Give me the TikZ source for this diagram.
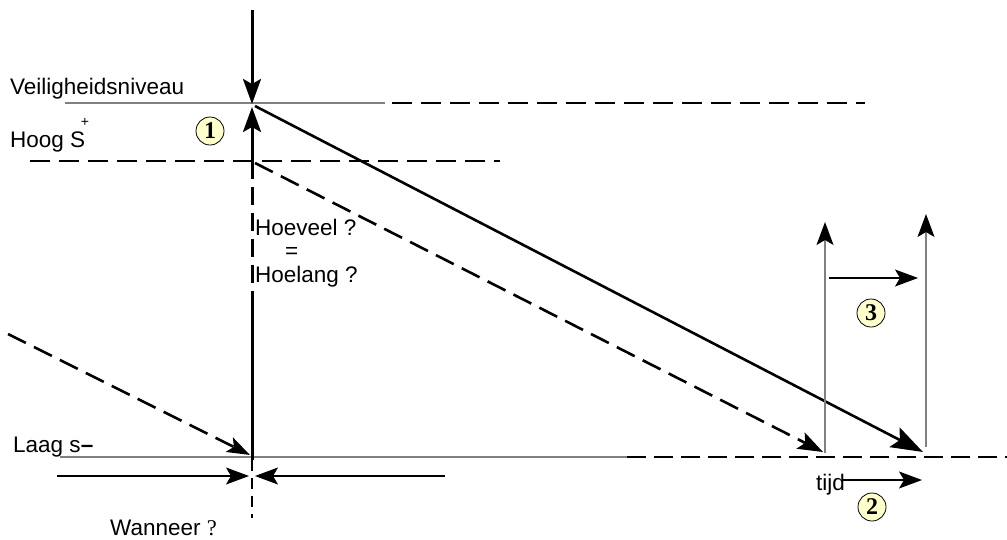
\documentclass[tikz,border=0pt]{standalone}
\usepackage{fontspec}
\setmainfont{Liberation Sans}
\newfontfamily\seriffont{Liberation Serif}
\usetikzlibrary{arrows.meta}
\definecolor{circfill}{RGB}{255,255,204}
\definecolor{thingray}{RGB}{128,128,128}
\begin{document}
\begin{tikzpicture}[x=1pt,y=-1pt,
  lbl/.style={inner sep=0pt, anchor=base west, font=\fontsize{22.5}{26}\selectfont},
  num/.style={circle, draw=black, line width=0.8pt, fill=circfill, minimum size=28pt, inner sep=0pt,
    font=\seriffont\bfseries\fontsize{24}{24}\selectfont},
  bigline/.style={line width=3pt, line cap=butt},
  dashln/.style={line width=2.6pt, dash pattern=on 20pt off 9pt},
  grayln/.style={line width=1.1pt, draw=thingray},
  thinblack/.style={line width=1.1pt, draw=black},
  arrbig/.style={-{Stealth[length=32pt,width=22pt,inset=6pt]}},
  arrmid/.style={-{Stealth[length=25pt,width=18pt,inset=5pt]}},
  arrthin/.style={-{Stealth[length=23pt,width=17pt,inset=5pt,color=black]}}
]
\useasboundingbox (0,0) rectangle (1007,539);

% coordinates
\coordinate (vtop) at (252,10);
\coordinate (vlvl) at (252,104);
\coordinate (vup) at (252,107);
\coordinate (vhoog) at (252,161);
\coordinate (vmid) at (252,295);
\coordinate (vlow) at (252,460);
\coordinate (vbot) at (252,518);

% level lines
\coordinate (vl1) at (65,103);
\coordinate (vl2) at (385,103);
\coordinate (vl3) at (392,103);
\coordinate (vl4) at (865,103);
\draw[grayln] (vl1) -- (vl2);
\draw[dashln] (vl3) -- (vl4);

\coordinate (hg1) at (30,161);
\coordinate (hg2) at (500,161);
\draw[dashln] (hg1) -- (hg2);

\coordinate (lg1) at (60,457);
\coordinate (lg2) at (627,457);
\coordinate (lg3) at (1007,457);
\draw[grayln] (lg1) -- (lg2);
\draw[line width=2.6pt, dash pattern=on 19pt off 8pt] (lg2) -- (lg3);

% central vertical
\draw[bigline, arrmid] (vtop) -- (vlvl);
\draw[bigline, arrmid] (vhoog) -- (vup);
\draw[line width=3pt, dash pattern=on 18pt off 8pt] (vhoog) -- (vmid);
\draw[bigline] (vmid) -- (vlow);
\draw[line width=2.6pt, dash pattern=on 11pt off 7pt] (vlow) -- (vbot);

% diagonals
\coordinate (d1s) at (255,106);
\coordinate (d1e) at (923,452);
\draw[line width=2.6pt, arrbig] (d1s) -- (d1e);
\coordinate (d2s) at (255,163);
\coordinate (d2e) at (823,452);
\draw[dashln, arrmid] (d2s) -- (d2e);
\coordinate (d3s) at (8,334);
\coordinate (d3e) at (250,455);
\draw[dashln, -{Stealth[length=23pt,width=16pt,inset=5pt]}] (d3s) -- (d3e);

% dimension arrows
\coordinate (dm1) at (57,476);
\coordinate (dm2) at (249,476);
\coordinate (dm3) at (445,476);
\coordinate (dm4) at (255,476);
\draw[thinblack, arrthin] (dm1) -- (dm2);
\draw[thinblack, arrthin] (dm3) -- (dm4);

% right verticals
\coordinate (r1b) at (825,453);
\coordinate (r1t) at (825,222);
\coordinate (r2b) at (926,447);
\coordinate (r2t) at (926,214);
\draw[grayln, arrthin] (r1b) -- (r1t);
\draw[grayln, arrthin] (r2b) -- (r2t);
\coordinate (h3a) at (829,278);
\coordinate (h3b) at (918,278);
\draw[thinblack, arrthin] (h3a) -- (h3b);

% tijd
\node[lbl] (tijd) at (816,490) {tijd};
\coordinate (t1) at (843,480);
\coordinate (t2) at (922,480);
\draw[thinblack, arrthin] (t1) -- (t2);

% circles
\node[num] (c1) at (210,131) {1};
\node[num] (c3) at (871,313) {3};
\node[num] (c2) at (872,507) {2};

% labels
\node[lbl] (veil) at (10,94) {Veiligheidsniveau};
\node[lbl] (hoog) at (10,147) {Hoog S};
\node[inner sep=0pt, font=\fontsize{14}{14}\selectfont] (plus) at (85,122) {+};
\node[lbl] (laag) at (13,452) {Laag s{\bfseries –}};
\node[lbl] (wann) at (110,535) {Wanneer {\seriffont ?}};
\node[lbl] (hoev) at (255,235) {Hoeveel ?};
\node[lbl] (eq) at (285,258.5) {=};
\node[lbl] (hoel) at (255,282) {Hoelang ?};
\end{tikzpicture}
\end{document}
